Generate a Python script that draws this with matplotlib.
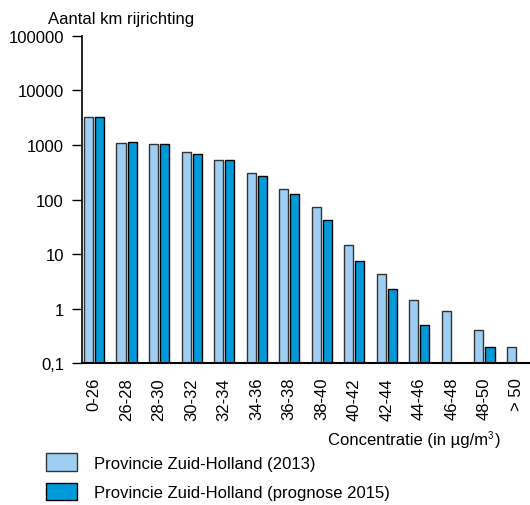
import numpy as np
import matplotlib
matplotlib.use('Agg')
import matplotlib.pyplot as plt

# categorieën en waarden (km rijrichting)
klassen = ['0-26', '26-28', '28-30', '30-32', '32-34', '34-36', '36-38',
           '38-40', '40-42', '42-44', '44-46', '46-48', '48-50', '> 50']
zh_2013 = [3200, 1100, 1050, 735, 525, 310, 156, 72, 14.4, 4.3, 1.45, 0.91, 0.4, 0.2]
zh_2015 = [3300, 1150, 1050, 690, 520, 273, 124, 41.5, 7.4, 2.25, 0.5, 0, 0.2, 0]
y_ticks = [0.1, 1, 10, 100, 1000, 10000, 100000]
y_labels = ['0,1', '1', '10', '100', '1000', '10000', '100000']

plt.rcParams['font.family'] = ['Liberation Sans', 'DejaVu Sans']

kleur_licht = '#9ECFF3'
kleur_donker = '#009ADA'
basis = 0.1

fig = plt.figure(figsize=(5.3, 5.06), dpi=100)
ax = fig.add_axes([0.1547, 0.2806, 0.8453, 0.6463])

x = np.arange(len(klassen))
w = 0.28
h1 = np.maximum(np.array(zh_2013) - basis, 0)
h2 = np.maximum(np.array(zh_2015) - basis, 0)
b1 = ax.bar(x - 0.17, h1, w, bottom=basis, color=kleur_licht, edgecolor='#333333',
            linewidth=1.0, label='Provincie Zuid-Holland (2013)')
b2 = ax.bar(x + 0.17, h2, w, bottom=basis, color=kleur_donker, edgecolor='black',
            linewidth=1.0, label='Provincie Zuid-Holland (prognose 2015)')

ax.set_yscale('log')
ax.set_ylim(0.1, 100000)
ax.set_xlim(-0.37, 13.4)
ax.set_yticks(y_ticks)
ax.set_yticklabels(y_labels)
ax.minorticks_off()
ax.tick_params(axis='y', length=7, width=1, labelsize=12, pad=6)
ax.set_xticks(x)
ax.set_xticklabels(klassen, rotation=90)
ax.tick_params(axis='x', length=0, labelsize=12, pad=10)

for s in ['top', 'right']:
    ax.spines[s].set_visible(False)
ax.spines['left'].set_linewidth(1.2)
ax.spines['bottom'].set_linewidth(1.5)
ax.spines['bottom'].set_zorder(5)

fig.text(0.091, 0.961, 'Aantal km rijrichting', fontsize=12, va='center', ha='left')
# as-label met kleine superscript 3
fig.text(0.944, 0.130, ')', fontsize=12, va='center', ha='right')
fig.text(0.930, 0.139, '3', fontsize=7, va='center', ha='right')
fig.text(0.921, 0.130, 'Concentratie (in µg/m', fontsize=12, va='center', ha='right')

fig.legend(handles=[b1, b2], loc='upper left', bbox_to_anchor=(0.075, 0.115),
           frameon=False, fontsize=12, handlelength=1.85, handleheight=1.25,
           handletextpad=1.0, labelspacing=0.7, borderaxespad=0)

fig.savefig('out.png', dpi=100)
